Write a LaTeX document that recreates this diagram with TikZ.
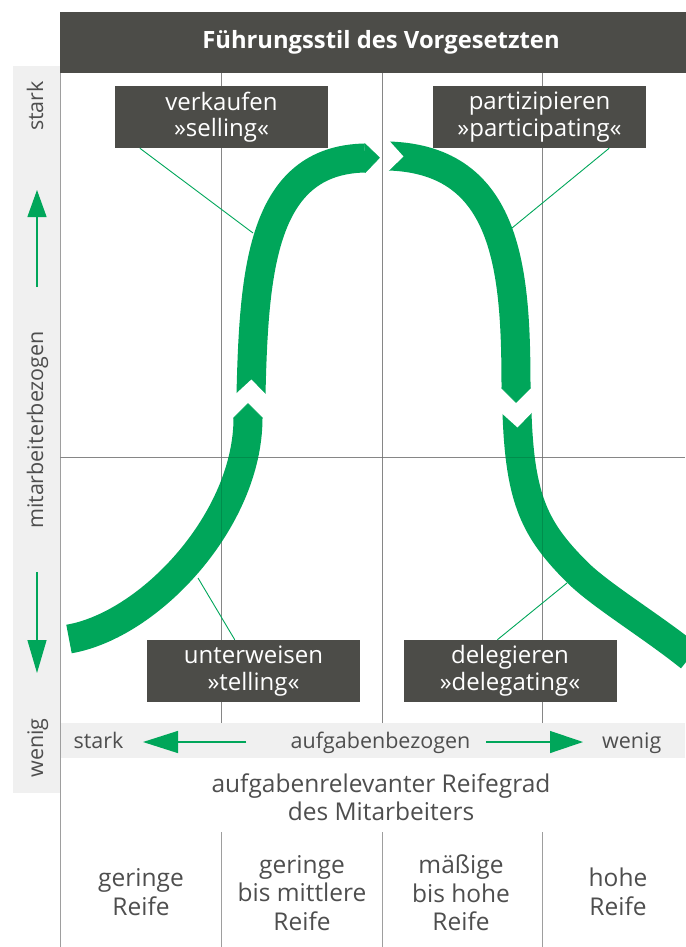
\documentclass[tikz,border=0pt]{standalone}
\usepackage{fontspec}
\setmainfont{Open Sans}
\usetikzlibrary{arrows.meta,calc}
\definecolor{leafgreen}{RGB}{0,166,90}
\definecolor{slate}{RGB}{76,76,72}
\definecolor{inkgray}{RGB}{78,78,78}
\definecolor{panel}{RGB}{240,240,240}
\definecolor{rule}{RGB}{158,158,158}
\begin{document}
\begin{tikzpicture}[x=1pt,y=-1pt,
  bandline/.style={draw=leafgreen,line width=29pt,line cap=butt},
  bandtip/.style={fill=leafgreen,draw=leafgreen,line width=0.6pt,line join=round},
  notchcut/.style={fill=white},
  gridrule/.style={draw=rule,line width=0.8pt},
  gridfaint/.style={draw=black,line width=0.7pt,draw opacity=0.15},
  leader/.style={draw=leafgreen,line width=0.9pt},
  stylebox/.style={fill=slate,text=white,minimum width=213pt,minimum height=62pt,
    align=center,inner sep=0pt,font=\fontsize{24}{26.5}\selectfont},
  axislabel/.style={text=inkgray,font=\fontsize{21.5}{24}\selectfont,inner sep=0pt},
  axisarrow/.style={draw=leafgreen,fill=leafgreen,line width=1.3pt},
  celltext/.style={text=inkgray,align=center,font=\fontsize{24.5}{28.5}\selectfont,inner sep=0pt},
]
\useasboundingbox (0,0) rectangle (685,947);

% light panels: vertical axis strip and horizontal axis strip
\fill[panel] (13,66) rectangle (59.5,793);
\fill[panel] (60.5,723) rectangle (685,758);

% grid
\draw[gridrule] (60,73) -- (60,947);
\foreach \gx in {221,382,542} {
  \draw[gridrule] (\gx,73) -- (\gx,723);
  \draw[gridrule] (\gx,832) -- (\gx,947);
}
\draw[gridrule] (60,457) -- (685,457);

% ---- telling
\coordinate (t0) at (69,639);
\coordinate (t1) at (150,625);
\coordinate (t2) at (248,520);
\coordinate (t3) at (248,418);
\draw[bandline] (t0) .. controls (t1) and (t2) .. (t3);
\filldraw[bandtip] ($(t3)!14.5pt!90:(t2)$) -- ($(t3)!-14.5pt!(t2)$) -- ($(t3)!14.5pt!-90:(t2)$) -- cycle;

% ---- selling
\coordinate (s0) at (251,394);
\coordinate (s1) at (254,270);
\coordinate (s2) at (262,160);
\coordinate (s3) at (365,158);
\draw[bandline] (s0) .. controls (s1) and (s2) .. (s3);
\filldraw[bandtip] ($(s3)!14.5pt!90:(s2)$) -- ($(s3)!-14.5pt!(s2)$) -- ($(s3)!14.5pt!-90:(s2)$) -- cycle;
\coordinate (sb) at ($(s0)!-1pt!(s1)$);
\fill[notchcut] ($(sb)!16pt!90:(s1)$) -- ($(s0)!14.5pt!(s1)$) -- ($(sb)!16pt!-90:(s1)$) -- cycle;

% ---- participating
\coordinate (p0) at (389,156);
\coordinate (p1) at (508,160);
\coordinate (p2) at (516,270);
\coordinate (p3) at (516,388);
\draw[bandline] (p0) .. controls (p1) and (p2) .. (p3);
\filldraw[bandtip] ($(p3)!14.5pt!90:(p2)$) -- ($(p3)!-14.5pt!(p2)$) -- ($(p3)!14.5pt!-90:(p2)$) -- cycle;
\coordinate (pb) at ($(p0)!-1pt!(p1)$);
\fill[notchcut] ($(pb)!16pt!90:(p1)$) -- ($(p0)!14.5pt!(p1)$) -- ($(pb)!16pt!-90:(p1)$) -- cycle;

% ---- delegating
\coordinate (d0) at (517,413);
\coordinate (d1) at (520,500);
\coordinate (d2) at (535,530);
\coordinate (d3) at (577,572);
\coordinate (d4) at (600,595);
\coordinate (d5) at (650,625);
\coordinate (d6) at (690,657);
\draw[bandline] (d0) .. controls (d1) and (d2) .. (d3) .. controls (d4) and (d5) .. (d6);
\coordinate (db) at ($(d0)!-1pt!(d1)$);
\fill[notchcut] ($(db)!16pt!90:(d1)$) -- ($(d0)!14.5pt!(d1)$) -- ($(db)!16pt!-90:(d1)$) -- cycle;

% grid lines showing through the bands
\foreach \gx in {221,382,542} {
  \draw[gridfaint] (\gx,73) -- (\gx,723);
}
\draw[gridfaint] (60,457) -- (685,457);

% header
\node[fill=slate,text=white,minimum width=642pt,minimum height=61pt,inner sep=0pt,
  font=\bfseries\fontsize{23.8}{26}\selectfont] (head) at (381,42.5) {Führungsstil des Vorgesetzten};

% style boxes
\node[stylebox] (sell) at (221.5,117) {verkaufen\\»selling«};
\node[stylebox] (part) at (539.5,117) {partizipieren\\»participating«};
\node[stylebox] (tell) at (253.5,671) {unterweisen\\»telling«};
\node[stylebox] (dele) at (510,671) {delegieren\\»delegating«};

% leader lines from the boxes to the bands
\coordinate (sellfoot) at (253,233);
\coordinate (partfoot) at (512,228);
\coordinate (tellfoot) at (198,578);
\coordinate (delefoot) at (567,583);
\draw[leader] ($(sell.south west)+(25,0)$) -- (sellfoot);
\draw[leader] ($(part.south east)+(-37,0)$) -- (partfoot);
\draw[leader] ($(tell.north west)+(88,0)$) -- (tellfoot);
\draw[leader] ($(dele.north west)+(94,0)$) -- (delefoot);

% vertical axis
\node[axislabel,rotate=90,anchor=base] (sidestrong) at (43,106) {stark};
\node[axislabel,rotate=90,anchor=base] (sidelabel) at (43,430) {mitarbeiterbezogen};
\node[axislabel,rotate=90,anchor=base] (sideweak) at (43,748) {wenig};
\coordinate (upfoot) at (37,287);
\coordinate (uptip) at (37,190);
\coordinate (downfoot) at (37,572);
\coordinate (downtip) at (37,673);
\draw[axisarrow,-{Triangle[width=19pt,length=27pt]}] (upfoot) -- (uptip);
\draw[axisarrow,-{Triangle[width=19pt,length=33pt]}] (downfoot) -- (downtip);

% horizontal axis
\node[axislabel,anchor=base] (bandstrong) at (98.5,748) {stark};
\node[axislabel,anchor=base] (bandtask) at (380.5,748) {aufgabenbezogen};
\node[axislabel,anchor=base west] (bandweak) at (602,748) {wenig};
\coordinate (leftfoot) at (246,742);
\coordinate (lefttip) at (143,742);
\coordinate (rightfoot) at (486,742);
\coordinate (righttip) at (583,742);
\draw[axisarrow,-{Triangle[width=22pt,length=35pt]}] (leftfoot) -- (lefttip);
\draw[axisarrow,-{Triangle[width=22pt,length=33pt]}] (rightfoot) -- (righttip);

% maturity table
\node[celltext] (maturity) at (381,797) {aufgabenrelevanter Reifegrad\\des Mitarbeiters};
\node[celltext] (m1) at (141,892) {geringe\\Reife};
\node[celltext] (m2) at (302,893) {geringe\\bis mittlere\\Reife};
\node[celltext] (m3) at (461,893) {mäßige\\bis hohe\\Reife};
\node[celltext] (m4) at (618,892) {hohe\\Reife};
\end{tikzpicture}
\end{document}
